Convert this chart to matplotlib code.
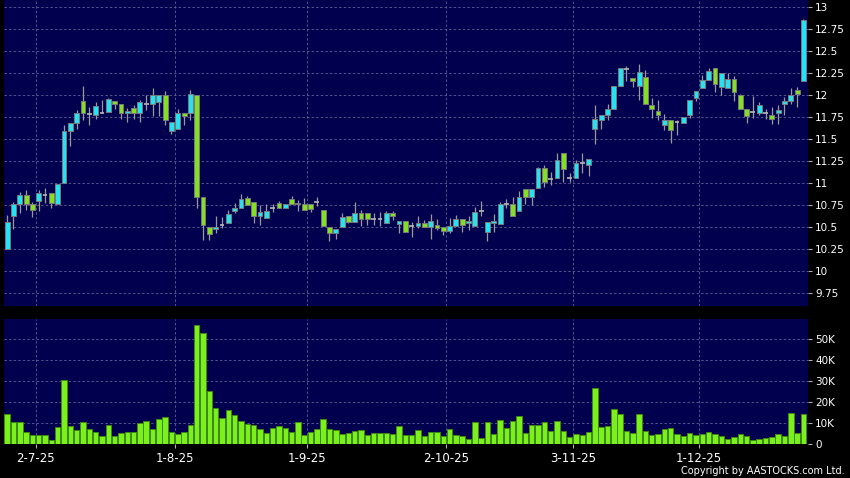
import matplotlib
matplotlib.use('Agg')
import matplotlib.pyplot as plt
from matplotlib.ticker import FuncFormatter

opens = [10.25, 10.63, 10.76, 10.87, 10.76, 10.80, 10.87, 10.89, 10.77, 11.00,
         11.60, 11.68, 11.94, 11.79, 11.78, 11.80, 11.81, 11.94, 11.90, 11.80,
         11.86, 11.80, 11.90, 11.90, 11.92, 12.00, 11.59, 11.62, 11.80, 11.80,
         12.00, 10.84, 10.50, 10.48, 10.53, 10.55, 10.69, 10.72, 10.83, 10.79,
         10.63, 10.61, 10.72, 10.78, 10.72, 10.82, 10.76, 10.77, 10.77, 10.79,
         10.70, 10.50, 10.43, 10.50, 10.63, 10.56, 10.66, 10.66, 10.60, 10.60,
         10.55, 10.66, 10.54, 10.57, 10.51, 10.51, 10.55, 10.50, 10.53, 10.50,
         10.46, 10.51, 10.60, 10.55, 10.52, 10.68, 10.45, 10.55, 10.54, 10.77,
         10.77, 10.68, 10.93, 10.84, 10.95, 11.17, 11.05, 11.06, 11.34, 11.06,
         11.06, 11.23, 11.21, 11.62, 11.72, 11.78, 11.84, 12.11, 12.30, 12.20,
         12.11, 12.21, 11.89, 11.82, 11.66, 11.72, 11.70, 11.68, 11.78, 11.97,
         12.08, 12.17, 12.31, 12.10, 12.08, 12.18, 12.00, 11.85, 11.81, 11.80,
         11.80, 11.78, 11.80, 11.90, 11.94, 12.06, 12.16]
highs = [10.64, 10.79, 10.90, 10.92, 10.79, 10.92, 10.95, 10.89, 10.99, 11.66,
         11.68, 11.83, 12.11, 11.87, 11.92, 11.95, 11.97, 11.94, 11.90, 11.86,
         11.89, 11.95, 12.00, 12.08, 12.00, 12.05, 11.70, 11.84, 11.80, 12.06,
         12.00, 10.84, 10.50, 10.63, 10.62, 10.70, 10.78, 10.88, 10.86, 10.79,
         10.75, 10.77, 10.77, 10.80, 10.77, 10.86, 10.81, 10.83, 10.77, 10.85,
         10.70, 10.50, 10.48, 10.66, 10.63, 10.79, 10.70, 10.66, 10.66, 10.67,
         10.69, 10.69, 10.57, 10.57, 10.56, 10.63, 10.58, 10.65, 10.60, 10.50,
         10.61, 10.64, 10.60, 10.63, 10.73, 10.80, 10.56, 10.65, 10.79, 10.82,
         10.84, 10.91, 10.93, 10.94, 11.19, 11.21, 11.13, 11.35, 11.34, 11.12,
         11.26, 11.35, 11.28, 11.89, 11.78, 11.90, 12.11, 12.31, 12.33, 12.20,
         12.36, 12.29, 11.97, 11.95, 11.79, 11.72, 11.72, 11.75, 11.95, 12.05,
         12.23, 12.31, 12.31, 12.25, 12.25, 12.22, 12.02, 11.85, 11.99, 11.92,
         11.85, 11.87, 11.89, 11.98, 12.08, 12.10, 12.87]
lows = [10.25, 10.48, 10.66, 10.70, 10.62, 10.68, 10.78, 10.72, 10.77, 11.00,
        11.42, 11.62, 11.72, 11.66, 11.73, 11.80, 11.81, 11.85, 11.73, 11.70,
        11.73, 11.70, 11.83, 11.77, 11.76, 11.66, 11.56, 11.62, 11.66, 11.72,
        10.72, 10.36, 10.36, 10.43, 10.49, 10.55, 10.66, 10.72, 10.75, 10.55,
        10.53, 10.61, 10.67, 10.72, 10.72, 10.76, 10.68, 10.70, 10.67, 10.74,
        10.52, 10.34, 10.37, 10.50, 10.55, 10.56, 10.51, 10.53, 10.53, 10.51,
        10.55, 10.58, 10.43, 10.45, 10.39, 10.49, 10.50, 10.37, 10.47, 10.41,
        10.43, 10.51, 10.45, 10.47, 10.52, 10.63, 10.35, 10.45, 10.54, 10.72,
        10.63, 10.68, 10.77, 10.75, 10.95, 10.96, 10.98, 11.06, 11.01, 11.01,
        11.06, 11.12, 11.08, 11.45, 11.62, 11.72, 11.84, 12.11, 12.16, 12.10,
        11.95, 11.90, 11.74, 11.72, 11.61, 11.46, 11.55, 11.68, 11.74, 11.93,
        12.08, 12.17, 12.04, 12.00, 12.08, 11.93, 11.85, 11.69, 11.74, 11.78,
        11.73, 11.67, 11.67, 11.78, 11.90, 11.87, 12.16]
closes = [10.56, 10.76, 10.87, 10.76, 10.70, 10.89, 10.87, 10.78, 10.99, 11.60,
          11.68, 11.80, 11.80, 11.79, 11.88, 11.80, 11.96, 11.90, 11.80, 11.82,
          11.80, 11.92, 11.90, 12.00, 12.00, 11.72, 11.70, 11.80, 11.77, 12.01,
          10.85, 10.53, 10.42, 10.50, 10.53, 10.65, 10.72, 10.82, 10.75, 10.63,
          10.67, 10.69, 10.72, 10.72, 10.77, 10.77, 10.78, 10.70, 10.71, 10.79,
          10.52, 10.44, 10.48, 10.62, 10.56, 10.66, 10.60, 10.59, 10.60, 10.60,
          10.66, 10.63, 10.57, 10.45, 10.51, 10.55, 10.50, 10.57, 10.49, 10.46,
          10.52, 10.59, 10.53, 10.57, 10.67, 10.68, 10.56, 10.57, 10.76, 10.77,
          10.63, 10.84, 10.84, 10.94, 11.17, 11.01, 11.05, 11.26, 11.16, 11.06,
          11.23, 11.23, 11.28, 11.73, 11.78, 11.85, 12.11, 12.31, 12.30, 12.16,
          12.26, 11.90, 11.85, 11.78, 11.72, 11.61, 11.70, 11.75, 11.95, 12.05,
          12.17, 12.28, 12.13, 12.25, 12.18, 12.04, 11.85, 11.77, 11.81, 11.89,
          11.80, 11.73, 11.83, 11.94, 12.00, 12.02, 12.86]
volumes_k = [14.3, 10.6, 10.6, 5.9, 4.4, 4.4, 4.4, 1.9, 8.3, 30.3,
             8.7, 6.7, 10.5, 7.3, 5.6, 3.8, 8.9, 4.0, 5.1, 5.6,
             5.9, 10.0, 10.8, 7.3, 11.7, 13.0, 5.9, 4.9, 5.6, 9.2,
             56.3, 52.8, 25.2, 17.1, 12.1, 15.9, 13.8, 10.8, 9.5, 9.0,
             7.3, 5.4, 7.6, 8.6, 7.8, 5.7, 10.5, 4.3, 5.7, 7.0,
             11.7, 7.3, 6.7, 4.8, 5.1, 6.0, 6.8, 4.4, 5.4, 5.1,
             5.4, 4.8, 8.7, 4.4, 4.4, 6.7, 3.7, 5.9, 5.7, 3.8,
             7.1, 4.4, 3.7, 2.5, 10.5, 3.0, 10.2, 4.9, 11.6, 7.6,
             11.1, 13.5, 5.4, 9.2, 9.0, 10.2, 6.3, 11.1, 6.2, 3.2,
             4.8, 4.3, 5.7, 26.5, 7.9, 8.6, 16.8, 14.0, 6.0, 5.1,
             14.3, 6.3, 4.4, 4.8, 7.0, 7.8, 4.9, 4.0, 5.4, 4.4,
             4.6, 5.7, 4.6, 3.8, 2.5, 3.5, 4.8, 3.7, 2.1, 2.5,
             3.0, 3.5, 4.9, 3.8, 14.9, 5.2, 14.3]
date_labels = ['2-7-25', '1-8-25', '1-9-25', '2-10-25', '3-11-25', '1-12-25']
date_index = [5, 27, 48, 70, 90, 110]
price_ticks = [9.75, 10, 10.25, 10.5, 10.75, 11, 11.25, 11.5, 11.75, 12, 12.25, 12.5, 12.75, 13]
vol_ticks_k = [0, 10, 20, 30, 40, 50]

BG = '#00004e'
GRID = '#5f5f95'
UP = '#25e2f0'
DOWN = '#82e021'
WICK = '#9a9a9a'
EDGE = '#7a7a7a'

W, H = 850, 478
fig = plt.figure(figsize=(W / 100, H / 100), dpi=100, facecolor='black')
ax = fig.add_axes([4 / W, 1 - 306 / H, 804 / W, 306 / H])
axv = fig.add_axes([4 / W, 1 - 444 / H, 804 / W, 125 / H])

n = len(opens)
xs = list(range(n))
grid_x = [i - 0.5 for i in date_index]

for a in (ax, axv):
    a.set_facecolor(BG)
    for s in a.spines.values():
        s.set_visible(False)
    a.set_xlim(-0.5, n - 0.28)
    a.set_axisbelow(True)
    a.yaxis.tick_right()
    a.tick_params(axis='y', colors='#b0b0b0', labelcolor='white', length=3,
                  width=0.8, labelsize=7.5, pad=2)
    a.grid(True, color=GRID, linestyle=(0, (3, 2.5)), linewidth=0.6)
    a.set_xticks(grid_x)

# price panel
ax.set_ylim(9.606, 13.083)
ax.set_yticks(price_ticks)
ax.yaxis.set_major_formatter(FuncFormatter(lambda v, p: f'{v:g}'))
ax.tick_params(axis='x', length=0, labelbottom=False)

ax.vlines(xs, lows, highs, color=WICK, linewidth=0.9, zorder=2)
bw = 0.76
for i in xs:
    o, c = opens[i], closes[i]
    if abs(c - o) < 0.004:
        ax.hlines(o, i - bw / 2, i + bw / 2, color='#b8b8b8', linewidth=1.2, zorder=3)
    else:
        col = UP if c > o else DOWN
        ax.bar(i, abs(c - o), bottom=min(o, c), width=bw, color=col,
               edgecolor=EDGE, linewidth=0.7, zorder=3)

# volume panel
axv.bar(xs, [v * 1000 for v in volumes_k], width=0.86, color='#7cf01c',
        edgecolor='#3c8a0c', linewidth=0.7, zorder=3)
axv.set_ylim(0, 59300)
axv.set_yticks([v * 1000 for v in vol_ticks_k])
axv.set_yticklabels(['0' if v == 0 else f'{v}K' for v in vol_ticks_k])
axv.set_xticklabels(date_labels)
axv.tick_params(axis='x', colors='#b0b0b0', labelcolor='white', length=3,
                width=0.8, labelsize=8.5, pad=3)

fig.text(845 / W, 1 - 471 / H, 'Copyright by AASTOCKS.com Ltd.', color='white',
         fontsize=7, ha='right', va='center')

fig.savefig('out.png', dpi=100, facecolor='black')
